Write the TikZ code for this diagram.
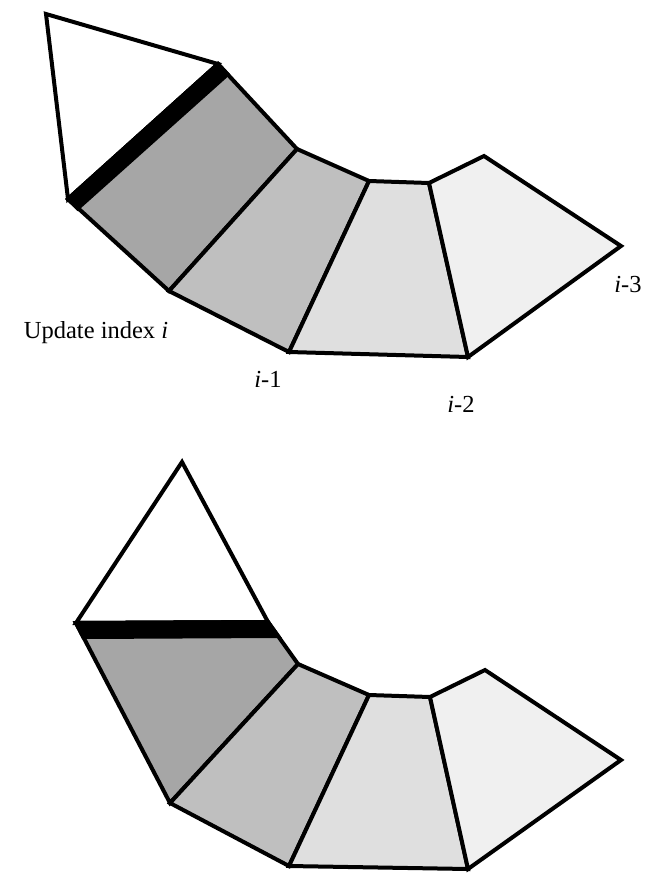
\documentclass[tikz,border=0pt]{standalone}
\usepackage{fontspec}
\setmainfont{Liberation Serif}
\begin{document}
\begin{tikzpicture}[x=1pt,y=-1pt,
  face/.style={draw=black,line width=4pt,line join=miter},
  band/.style={fill=black},
  lab/.style={font=\fontsize{24.5}{28}\selectfont,anchor=base,inner sep=0pt}]
\definecolor{gA}{gray}{0.65}
\definecolor{gB}{gray}{0.75}
\definecolor{gC}{gray}{0.875}
\definecolor{gD}{gray}{0.94}
\useasboundingbox (0,0) rectangle (647,873);

% ---------- top strip ----------
\coordinate (a0) at (46,14);
\coordinate (a1) at (218,64);
\coordinate (a2) at (68,199);
\coordinate (a1b) at (227.5,74.3);
\coordinate (a2b) at (77.6,208.4);
\coordinate (a3) at (297,149);
\coordinate (a4) at (169,291);
\coordinate (a5) at (369,181);
\coordinate (a6) at (289,352);
\coordinate (a7) at (429,183);
\coordinate (a8) at (468,357);
\coordinate (a9) at (484,156);
\coordinate (a10) at (621,246);

\filldraw[face,fill=white] (a0) -- (a1) -- (a2) -- cycle;
\filldraw[face,fill=gA] (a2) -- (a1) -- (a3) -- (a4) -- cycle;
\filldraw[face,fill=gB] (a4) -- (a3) -- (a5) -- (a6) -- cycle;
\filldraw[face,fill=gC] (a6) -- (a5) -- (a7) -- (a8) -- cycle;
\filldraw[face,fill=gD] (a7) -- (a9) -- (a10) -- (a8) -- cycle;
\filldraw[face,band] (a2) -- (a1) -- (a1b) -- (a2b) -- cycle;

\node[lab] (lupd) at (96,338) {Update index \textit{i}};
\node[lab] (l1) at (268,387) {\textit{i}-1};
\node[lab] (l2) at (461,412) {\textit{i}-2};
\node[lab] (l3) at (628,292) {\textit{i}-3};

% ---------- bottom strip ----------
\coordinate (b0) at (182,462);
\coordinate (b1) at (268,622);
\coordinate (b2) at (76,623);
\coordinate (b1b) at (278,636);
\coordinate (b2b) at (83.3,637);
\coordinate (b3) at (298,664);
\coordinate (b4) at (170,803);
\coordinate (b5) at (369,695);
\coordinate (b6) at (289,866);
\coordinate (b7) at (430,697);
\coordinate (b8) at (468,869);
\coordinate (b9) at (485,670);
\coordinate (b10) at (621,760);

\filldraw[face,fill=white] (b0) -- (b1) -- (b2) -- cycle;
\filldraw[face,fill=gA] (b2) -- (b1) -- (b3) -- (b4) -- cycle;
\filldraw[face,fill=gB] (b4) -- (b3) -- (b5) -- (b6) -- cycle;
\filldraw[face,fill=gC] (b6) -- (b5) -- (b7) -- (b8) -- cycle;
\filldraw[face,fill=gD] (b7) -- (b9) -- (b10) -- (b8) -- cycle;
\filldraw[face,band] (b2) -- (b1) -- (b1b) -- (b2b) -- cycle;
\end{tikzpicture}
\end{document}
